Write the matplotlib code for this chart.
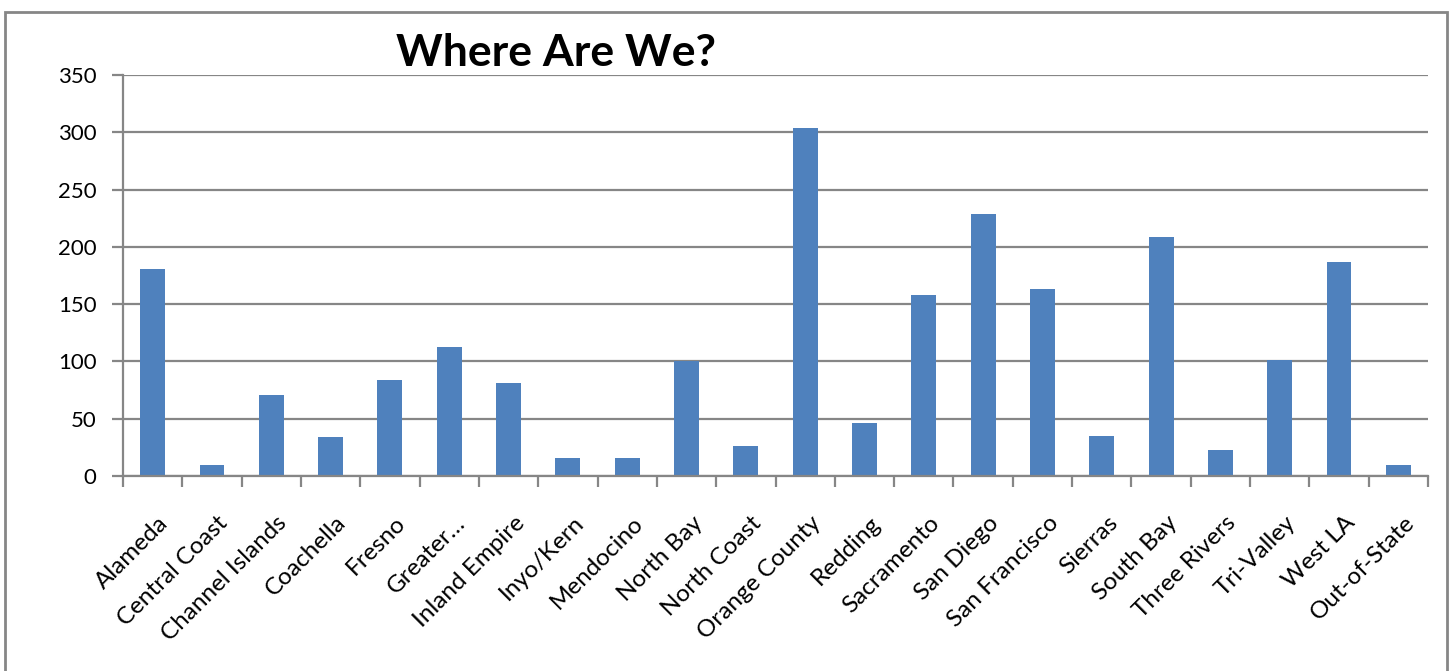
import matplotlib
matplotlib.use("Agg")
import matplotlib.pyplot as plt
from matplotlib.patches import Rectangle
from matplotlib.transforms import ScaledTranslation

categories = ["Alameda", "Central Coast", "Channel Islands", "Coachella", "Fresno",
              "Greater\u2026", "Inland Empire", "Inyo/Kern", "Mendocino", "North Bay",
              "North Coast", "Orange County", "Redding", "Sacramento", "San Diego",
              "San Francisco", "Sierras", "South Bay", "Three Rivers", "Tri-Valley",
              "West LA", "Out-of-State"]
values = [181, 10, 71, 34, 84, 113, 81, 16, 16, 100, 26, 304, 46, 158, 229, 163,
          35, 209, 23, 101, 187, 10]
yticks = [0, 50, 100, 150, 200, 250, 300, 350]
title = "Where Are We?"

plt.rcParams['font.family'] = ['Lato', 'DejaVu Sans']
GRAY = "#868686"
BLUE = "#4F81BD"

fig = plt.figure(figsize=(14.53, 6.71), dpi=100)
ax = fig.add_axes([123/1453, 1-476/671, (1428-123)/1453, (476-75)/671])

x = list(range(len(categories)))
ax.bar(x, values, width=0.42, color=BLUE, zorder=3)

ax.set_xlim(-0.5, len(categories)-0.5)
ax.set_ylim(0, 350)
ax.set_yticks(yticks)
ax.set_yticklabels([str(v) for v in yticks], fontsize=16)
ax.yaxis.grid(True, color=GRAY, linewidth=1.6, zorder=0)
ax.set_axisbelow(True)

ax.set_xticks(x)
ax.set_xticklabels(categories, rotation=45, ha='right', rotation_mode='anchor', fontsize=17.5)
ax.tick_params(axis='x', length=0, pad=26)
shift = ScaledTranslation(5/100, 0, fig.dpi_scale_trans)
for lbl in ax.get_xticklabels():
    lbl.set_transform(lbl.get_transform() + shift)
ax.set_xticks([i - 0.5 for i in range(len(categories)+1)], minor=True)
ax.tick_params(axis='x', which='minor', length=8, width=1.6, color=GRAY, direction='out')
ax.tick_params(axis='y', length=8, width=1.6, color=GRAY, direction='out', pad=11)

for s in ['top', 'right']:
    ax.spines[s].set_visible(False)
for s in ['left', 'bottom']:
    ax.spines[s].set_color(GRAY)
    ax.spines[s].set_linewidth(1.6)
ax.spines['left'].set_zorder(4)
ax.spines['bottom'].set_zorder(4)

fig.text(556/1453, 1-53/671, title, fontsize=32, fontweight='bold', ha='center', va='center')

border = Rectangle((5/1453, -0.02), (1447-5)/1453, 1-12/671+0.02, transform=fig.transFigure,
                   fill=False, edgecolor=GRAY, linewidth=2)
fig.patches.append(border)

fig.savefig("out.png", dpi=100)
